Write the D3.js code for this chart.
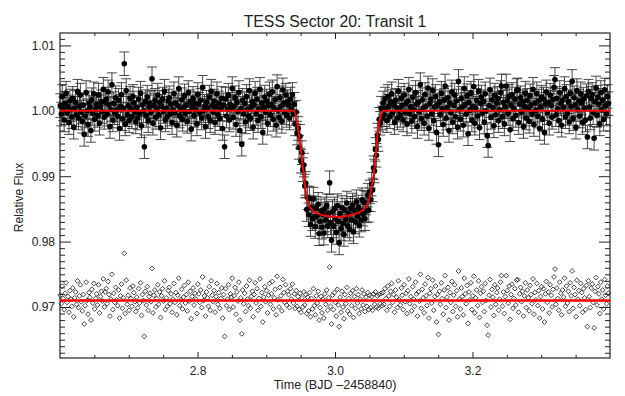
<!DOCTYPE html>
<html>
<head>
<meta charset="utf-8">
<script src="https://cdn.jsdelivr.net/npm/d3@7"></script>
<style>
body { margin: 0; background: #fff; }
svg { display: block; font-family: "Liberation Sans", Arial, Helvetica, sans-serif; }
</style>
</head>
<body>
<div id="chart"></div>
<script>
// TESS 2-minute cadence, time in BJD - 2458840
const cadenceStart = 2.6005;
const cadenceDays = 2 / 1440;

// flux offsets from 1.0, units of 1e-4
const fluxPre = [
  8, -5, 22, 3, -14, 11, 27, -3, 6, -18, 15, 2, -9, 19, -25, 4, 13, -6, 30, -11,
  7, 24, -2, -16, 9, -36, -8, 28, 0, -21, 12, 5, -30, 17, -4, 26, -13, 3, 10, -7,
  24, -19, 6, 14, -1, 33, -10, 13, 18, -5, 29, 9, -24, 2, 40, -14, 11, -3, 20, 1,
  -8, 16, -27, 7, 25, -12, 4, 72, -20, 31, -6, 8, -15, 19, 3, -9, 22, 12, -2, -17,
  5, -11, 18, -4, 27, -23, 9, 0, -55, 14, -7, 21, -15, 6, 11, -2, 49, -19, 8, 16,
  -10, 3, 24, -6, 13, -26, 7, 18, -1, 30, -14, 4, -9, 15, 20, -5, 10, -18, 2, 26,
  -3, 12, -22, 8, 34, -8, 1, 17, -13, 5, 23, -4, 9, -16, 28, -1, 14, -28, 6, 19,
  -7, 11, 2, -20, 25, 10, -3, 16, -11, 36, 0, 7, -24, 13, 4, -9, 21, -15, 30, 8,
  -2, 15, -18, 6, 26, -6, 12, -12, 3, 19, -27, 9, -55, 18, -8, 2, 24, -14, 10, 5,
  34, -10, 7, 20, -21, 13, -1, 28, -30, 4, -51, 16, -5, 11, -17, 22, 2, -8, 31, -12,
  6, 14, -25, 9, 27, -4, 18, -15, 3, 33, -9, 12, -33, 5, 21, -2, 15, -19, 8, 26,
  -6, 10, 29, -13, 4, 17, -22, 37, 1, -10, 20, 7, -16, 32, 12, -3, 24, -7, 14, 9,
  -11, 18, 2, 25, -4
];
const fluxIn = [
  10, -20, -2, -34, -27, -56, -39, -77, -64, -90,
  -83, -115, -111, -151, -133, -159, -134, -174, -148, -165,
  -135, -162, -177, -149, -161, -143, -188, -169, -153, -178,
  -158, -187, -150, -167, -145, -176, -157, -110, -171, -198,
  -154, -176, -150, -165, -186, -145, -169, -202, -157, -180,
  -148, -172, -189, -152, -166, -141, -176, -157, -181, -149,
  -167, -144, -185, -152, -170, -139, -161, -147, -175, -152,
  -167, -136, -158, -140, -165, -141, -153, -129, -152, -124,
  -136, -112, -121, -87, -92, -59, -68, -37, -44, -13,
  -19, 4, -11
];
const fluxPost = [
  12, -6, 18, 3, -15, 22, 7, -9, 14, 26, -3, 9, -18, 16, 5, -11, 30, 1, -7, 19,
  8, -14, 24, -2, 11, -20, 15, 33, -5, 6, -16, 21, 2, -9, 28, 10, -24, 13, -1, 40,
  -12, 17, 4, -19, 25, 7, -8, 35, -27, 11, 18, -4, 31, -15, 6, 22, -33, 9, -52, 14,
  -6, 27, 3, -21, 16, 38, -11, 5, 20, -30, 12, -3, 29, -17, 8, 24, -9, 15, -25, 45,
  2, -13, 19, 6, -22, 34, 10, -5, 23, -35, 13, 1, 27, -14, 7, 37, -19, 4, 16, -8,
  30, -26, 11, 21, -3, 14, -17, 26, 0, -38, -53, 8, 32, -10, 17, 5, -23, 24, -6, 12,
  19, -15, 2, 28, 38, -9, 13, -20, 6, 38, 15, -4, 22, -29, 9, 25, -12, 3, 18, -7,
  31, 32, -18, 10, 20, -2, 14, -24, 7, 27, -11, 16, 4, -16, 23, 9, -5, 33, -21, 12,
  1, 26, -8, 15, -27, 6, 21, -13, 18, -33, 10, 29, -3, 13, -19, 24, 8, -10, 17, 36,
  48, -6, 19, 3, -15, 28, 11, -22, 16, 5, 34, -9, 22, -4, 14, -17, 27, 7, 45, -12,
  20, 9, -25, 31, 2, 15, -8, 26, 12, -18, 18, 4, -14, 23, -40, 30, 6, -11, 19, 25,
  -3, -42, 14, 35, -7, 21, 10, -20, 28, 2, 16, -13, 32, 8, -5, 22, 11
];
// residuals during transit, units of 1e-4 (outside transit the model is 1.0,
// so there the residuals are the flux offsets themselves)
const residIn = [
  10, -12, 15, -9, 6, -14, 11, -18, 4, -10,
  13, -7, 9, -20, 5, -16, 12, -25, 3, -13,
  18, -8, -22, 7, -4, 14, -30, -11, 6, -19,
  2, -27, 10, -6, 16, -15, 4, 51, -9, -36,
  8, -14, 12, -3, -24, 17, -7, -40, 5, -18,
  14, -10, -28, 9, -5, 20, -16, 3, -21, 11,
  -8, 15, -26, 6, -12, 18, -4, 9, -20, 2,
  -13, 16, -7, 10, -17, 5, -9, 12, -14, 8,
  -11, 6, -15, 10, -6, 13, -10, 7, -12, 9,
  -5, 11, -8
];
const fluxErr = 0.0018;
const residLevel = 0.971;

// transit model
const modelTime = [2.6, 2.9404, 2.9466, 2.9516, 2.9549, 2.9578, 2.9612, 2.9684, 2.983,
  3.0048, 3.0266, 3.0412, 3.0484, 3.0534, 3.0582, 3.062, 3.0669, 3.0702, 3.4];
const modelFlux = [1.0, 1.0, 0.99704, 0.99296, 0.98989, 0.98735, 0.98582, 0.98469, 0.98403,
  0.98377, 0.98414, 0.9849, 0.98606, 0.98836, 0.99194, 0.99654, 0.99934, 1.0, 1.0];

const xTicks = [2.8, 3.0, 3.2];
const yTicks = [0.97, 0.98, 0.99, 1.00, 1.01];

const W = 625, H = 396;
const mLeft = 60, mRight = 610, mTop = 33, mBottom = 358;

const fluxOffsets = fluxPre.concat(fluxIn, fluxPost);
const residOffsets = fluxPre.concat(residIn, fluxPost);
const points = fluxOffsets.map((v, i) => ({
  t: cadenceStart + i * cadenceDays,
  f: 1 + v * 1e-4,
  r: residLevel + residOffsets[i] * 1e-4
}));

const x = d3.scaleLinear().domain([2.6, 3.4]).range([mLeft, mRight]);
const y = d3.scaleLinear().domain([0.9622, 1.0119]).range([mBottom, mTop]);

const svg = d3.select('#chart').append('svg')
  .attr('width', W).attr('height', H);

const ink = '#222';

// title
svg.append('text')
  .attr('x', (mLeft + mRight) / 2).attr('y', 26.7)
  .attr('text-anchor', 'middle')
  .attr('font-size', 15.8).attr('fill', ink)
  .text('TESS Sector 20: Transit 1');

// axes: major + minor ticks, all inward
const xMinor = d3.range(2.65, 3.4, 0.05).filter(v => !xTicks.some(t => Math.abs(t - v) < 1e-6));
const yMinor = d3.range(963, 1012).map(v => v / 1000).filter(v => !yTicks.some(t => Math.abs(t - v) < 1e-6));

function styleAxis(g) {
  g.select('.domain').remove();
  g.selectAll('line').attr('stroke', ink).attr('stroke-width', 1);
  g.selectAll('text').attr('fill', ink).attr('font-size', 12)
    .attr('font-family', '"Liberation Sans", Arial, sans-serif');
}

svg.append('g').attr('transform', `translate(0,${mBottom})`)
  .call(d3.axisBottom(x).tickValues(xTicks).tickSize(-6).tickPadding(8).tickFormat(d3.format('.1f')))
  .call(styleAxis);
svg.append('g').attr('transform', `translate(0,${mBottom})`)
  .call(d3.axisBottom(x).tickValues(xMinor).tickSize(-3).tickFormat(''))
  .call(styleAxis);
svg.append('g').attr('transform', `translate(0,${mTop})`)
  .call(d3.axisTop(x).tickValues(xTicks).tickSize(-6).tickFormat(''))
  .call(styleAxis);
svg.append('g').attr('transform', `translate(0,${mTop})`)
  .call(d3.axisTop(x).tickValues(xMinor).tickSize(-3).tickFormat(''))
  .call(styleAxis);

svg.append('g').attr('transform', `translate(${mLeft},0)`)
  .call(d3.axisLeft(y).tickValues(yTicks).tickSize(-11).tickPadding(5).tickFormat(d3.format('.2f')))
  .call(styleAxis);
svg.append('g').attr('transform', `translate(${mLeft},0)`)
  .call(d3.axisLeft(y).tickValues(yMinor).tickSize(-5).tickFormat(''))
  .call(styleAxis);
svg.append('g').attr('transform', `translate(${mRight},0)`)
  .call(d3.axisRight(y).tickValues(yTicks).tickSize(-11).tickFormat(''))
  .call(styleAxis);
svg.append('g').attr('transform', `translate(${mRight},0)`)
  .call(d3.axisRight(y).tickValues(yMinor).tickSize(-5).tickFormat(''))
  .call(styleAxis);

// frame
svg.append('rect')
  .attr('x', mLeft).attr('y', mTop)
  .attr('width', mRight - mLeft).attr('height', mBottom - mTop)
  .attr('fill', 'none').attr('stroke', ink).attr('stroke-width', 1.2);

// axis titles
svg.append('text')
  .attr('x', (mLeft + mRight) / 2).attr('y', 389)
  .attr('text-anchor', 'middle').attr('font-size', 12.6).attr('fill', ink)
  .text('Time (BJD \u20132458840)');
svg.append('text')
  .attr('transform', `translate(22.5,${(mTop + mBottom) / 2 + 2}) rotate(-90)`)
  .attr('text-anchor', 'middle').attr('font-size', 12).attr('fill', ink)
  .text('Relative Flux');

// error bars
const cap = 5;
const bars = svg.append('g').attr('stroke', '#333').attr('stroke-width', 0.9).attr('fill', 'none');
bars.selectAll('path')
  .data(points)
  .enter()
  .append('path')
  .attr('d', d => {
    const px = x(d.t), y0 = y(d.f - fluxErr), y1 = y(d.f + fluxErr);
    return `M${px},${y0}V${y1}M${px - cap},${y0}H${px + cap}M${px - cap},${y1}H${px + cap}`;
  });

// flux points
svg.append('g').selectAll('circle')
  .data(points)
  .enter()
  .append('circle')
  .attr('cx', d => x(d.t))
  .attr('cy', d => y(d.f))
  .attr('r', 2.8)
  .attr('fill', '#000');

// transit model
const model = modelTime.map((t, i) => ({ t: t, f: modelFlux[i] }));
svg.append('path')
  .datum(model)
  .attr('fill', 'none')
  .attr('stroke', '#f00')
  .attr('stroke-width', 1.9)
  .attr('d', d3.line().x(d => x(d.t)).y(d => y(d.f)).curve(d3.curveMonotoneX));

// residuals
const dm = 2.4;
svg.append('g').selectAll('path')
  .data(points)
  .enter()
  .append('path')
  .attr('transform', d => `translate(${x(d.t)},${y(d.r)})`)
  .attr('d', `M0,${-dm}L${dm},0L0,${dm}L${-dm},0Z`)
  .attr('fill', 'none')
  .attr('stroke', ink)
  .attr('stroke-width', 0.85);

svg.append('line')
  .attr('x1', mLeft).attr('x2', mRight)
  .attr('y1', y(residLevel)).attr('y2', y(residLevel))
  .attr('stroke', '#f00')
  .attr('stroke-width', 2.6);
</script>
</body>
</html>
